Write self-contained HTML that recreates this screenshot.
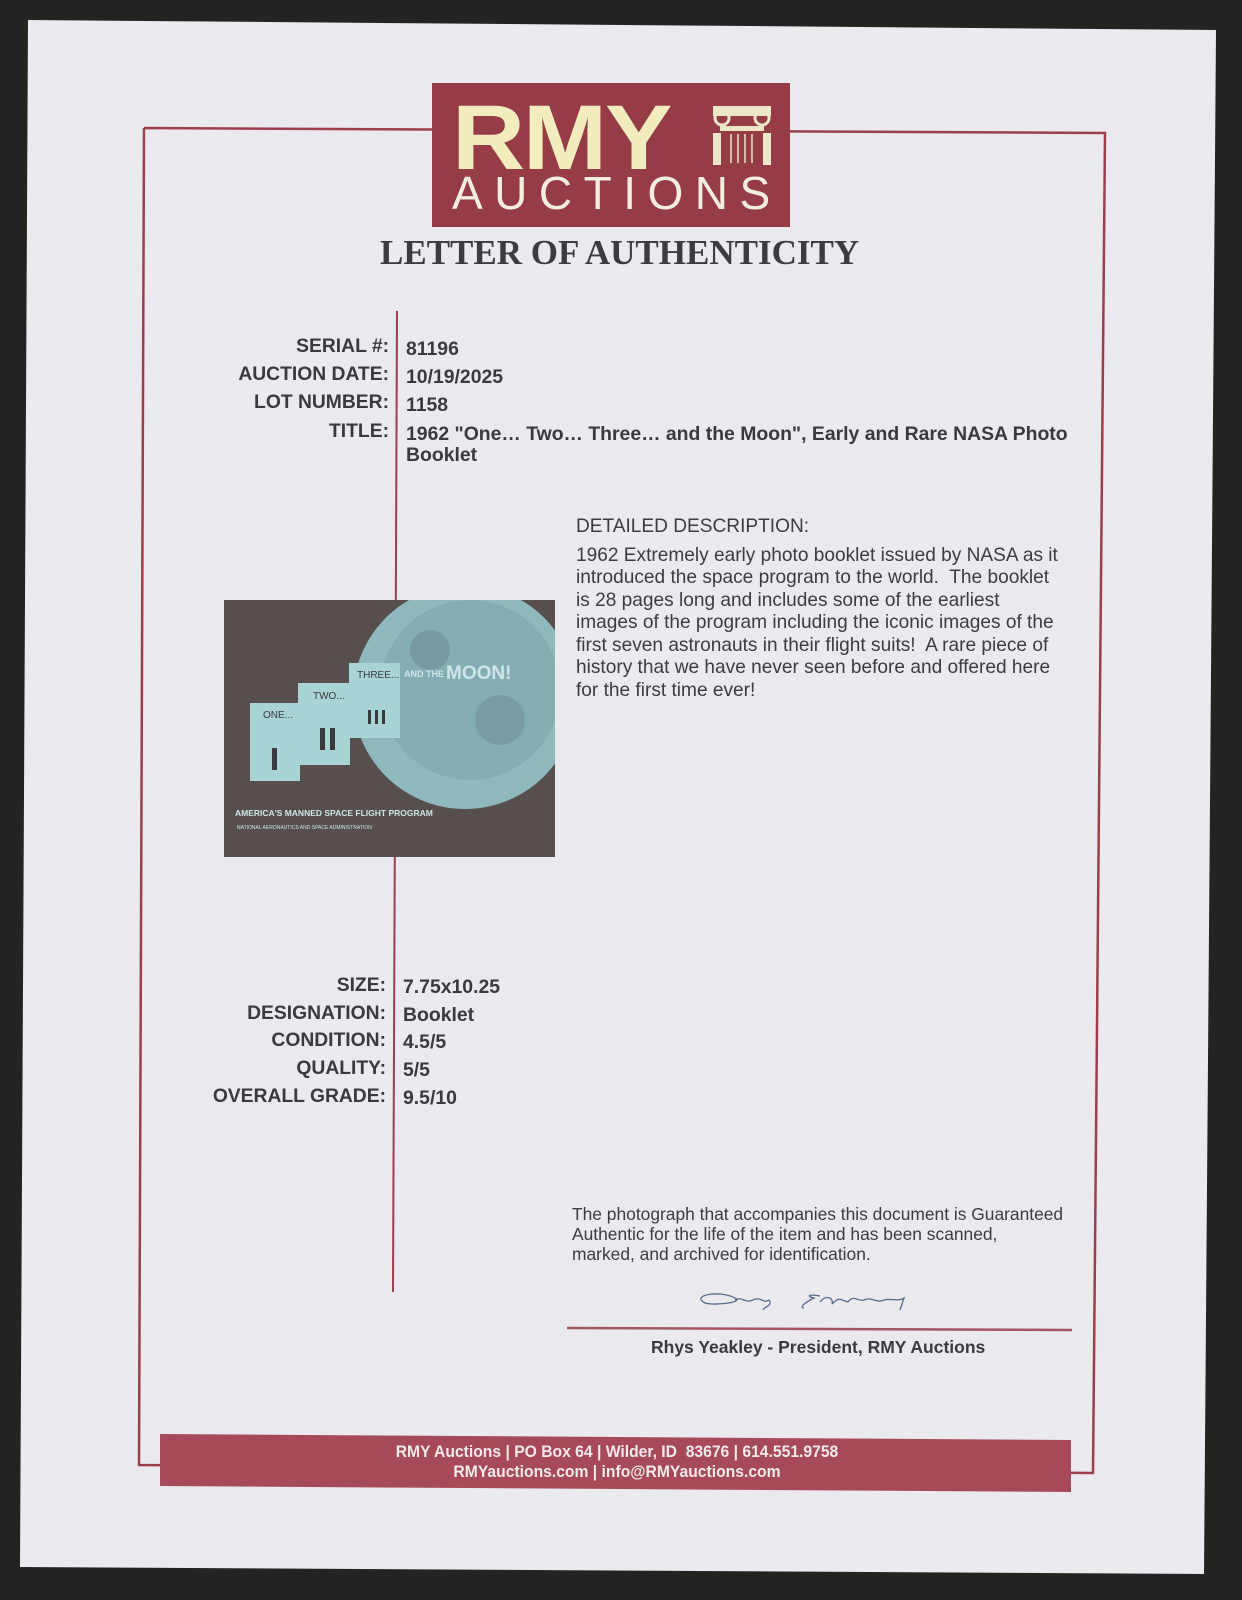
<!DOCTYPE html>
<html><head><meta charset="utf-8"><style>
body{margin:0;width:1242px;height:1600px;background:#242322;position:relative;overflow:hidden;font-family:"Liberation Sans",sans-serif;}
.t{position:absolute;white-space:nowrap;color:#3a3a3c;}
.lab{position:absolute;right:853px;font-weight:bold;font-size:19.3px;color:#3a3a3c;white-space:nowrap;}
.val{position:absolute;left:406px;font-weight:bold;font-size:19.4px;color:#3a3a3c;white-space:nowrap;}
.d{position:absolute;left:576px;font-size:19.1px;color:#3c3c3e;white-space:nowrap;}
</style></head><body>
<svg width="1242" height="1600" style="position:absolute;left:0;top:0">
<polygon points="28,20 1216,30 1204,1574 20,1567" fill="#ebebef"/>
<polyline points="144,128 1105,133 1093,1473 139,1465 144,128" fill="none" stroke="#9c3e4b" stroke-width="2.5"/>
<rect x="432" y="83" width="358" height="144" fill="#963c47"/>
<g fill="#ece7c8">
<rect x="713" y="106" width="58" height="10"/>
<circle cx="722" cy="118" r="7" fill="none" stroke="#ece7c8" stroke-width="3"/>
<circle cx="762" cy="118" r="7" fill="none" stroke="#ece7c8" stroke-width="3"/>
<rect x="720" y="126" width="44" height="5"/>
<rect x="713" y="133" width="8" height="32"/>
<rect x="763" y="133" width="8" height="32"/>
</g>
<g stroke="#ece7c8" stroke-width="1.5"><line x1="731" y1="134" x2="731" y2="163"/><line x1="738" y1="134" x2="738" y2="163"/><line x1="745" y1="134" x2="745" y2="163"/><line x1="752" y1="134" x2="752" y2="163"/></g>
<line x1="397" y1="311" x2="393" y2="1292" stroke="#9c3e4b" stroke-width="2"/>
<rect x="224" y="600" width="331" height="257" fill="#564f4e"/>
<clipPath id="c"><rect x="224" y="600" width="331" height="257"/></clipPath>
<g clip-path="url(#c)">
<ellipse cx="465" cy="697" rx="112" ry="112" fill="#8fb9bf"/>
<ellipse cx="470" cy="690" rx="90" ry="90" fill="#7ea6ad" opacity="0.6"/>
<circle cx="430" cy="650" r="20" fill="#6d8c92" opacity="0.6"/>
<circle cx="500" cy="720" r="25" fill="#6d8c92" opacity="0.5"/>
</g>
<rect x="250" y="703" width="50" height="78" fill="#a9d4d6"/>
<rect x="298" y="683" width="52" height="82" fill="#a9d4d6"/>
<rect x="349" y="663" width="51" height="75" fill="#a9d4d6"/>
<g fill="#3a3a3c"><rect x="272" y="748" width="5" height="22"/><rect x="320" y="728" width="5" height="22"/><rect x="330" y="728" width="5" height="22"/><rect x="368" y="710" width="3" height="14"/><rect x="375" y="710" width="3" height="14"/><rect x="382" y="710" width="3" height="14"/></g>
<text x="263" y="718" font-size="10" fill="#3a3a3c" font-family="Liberation Sans">ONE...</text>
<text x="313" y="699" font-size="10" fill="#3a3a3c" font-family="Liberation Sans">TWO...</text>
<text x="357" y="678" font-size="10" fill="#3a3a3c" font-family="Liberation Sans">THREE...</text>
<text x="404" y="677" font-size="9" fill="#cfe6e8" font-family="Liberation Sans" font-weight="bold">AND THE</text>
<text x="446" y="679" font-size="19" fill="#cfe6e8" font-family="Liberation Sans" font-weight="bold">MOON!</text>
<text x="235" y="816" font-size="8.5" fill="#cfe6e8" font-family="Liberation Sans" font-weight="bold">AMERICA'S MANNED SPACE FLIGHT PROGRAM</text>
<text x="237" y="829" font-size="5" fill="#cfe6e8" font-family="Liberation Sans">NATIONAL AERONAUTICS AND SPACE ADMINISTRATION</text>
<path d="M705,1303 C690,1295 720,1290 735,1298 C745,1302 715,1306 705,1303 M735,1300 c8,-4 10,4 18,0 c8,-4 10,4 16,0 c4,6 -4,6 -6,10 M820,1296 c-10,-2 -15,0 -6,2 c-12,6 -14,10 -10,10 M820,1302 c6,-8 14,-4 12,2 c8,-8 8,-4 16,-2 c6,-8 10,0 16,-2 c8,-4 12,4 20,0 c8,-2 14,2 20,-2 l-4,12" fill="none" stroke="#5a6a8c" stroke-width="1.3"/>
<line x1="567" y1="1328" x2="1072" y2="1330" stroke="#a45562" stroke-width="2.5"/>
<polygon points="160,1434 1071,1440 1071,1492 160,1486" fill="#a64a59"/>
</svg>
<div class="t" style="left:452px;top:86px;font-size:92px;font-weight:bold;color:#f2ecbf;transform:scaleX(1.1);transform-origin:left top;letter-spacing:-2px">RMY</div>
<div class="t" style="left:452px;top:166px;font-size:46px;color:#f4eee0;letter-spacing:11.5px">AUCTIONS</div>
<div class="t" style="left:380px;top:233px;font-size:35px;font-weight:bold;font-family:'Liberation Serif',serif;color:#3c3c3e">LETTER OF AUTHENTICITY</div>

<div class="lab" style="top:336px">SERIAL #:</div><div class="val" style="top:338px">81196</div>
<div class="lab" style="top:364px">AUCTION DATE:</div><div class="val" style="top:366px">10/19/2025</div>
<div class="lab" style="top:392px">LOT NUMBER:</div><div class="val" style="top:394px">1158</div>
<div class="lab" style="top:421px">TITLE:</div><div class="val" style="top:423px">1962 "One… Two… Three… and the Moon", Early and Rare NASA Photo</div>
<div class="val" style="top:444px">Booklet</div>

<div class="d" style="top:516px">DETAILED DESCRIPTION:</div>
<div class="d" style="top:545px">1962 Extremely early photo booklet issued by NASA as it</div>
<div class="d" style="top:567px">introduced the space program to the world.&nbsp; The booklet</div>
<div class="d" style="top:590px">is 28 pages long and includes some of the earliest</div>
<div class="d" style="top:612px">images of the program including the iconic images of the</div>
<div class="d" style="top:635px">first seven astronauts in their flight suits!&nbsp; A rare piece of</div>
<div class="d" style="top:657px">history that we have never seen before and offered here</div>
<div class="d" style="top:680px">for the first time ever!</div>

<div class="lab" style="top:975px;right:856px">SIZE:</div><div class="val" style="top:976px;left:403px">7.75x10.25</div>
<div class="lab" style="top:1003px;right:856px">DESIGNATION:</div><div class="val" style="top:1004px;left:403px">Booklet</div>
<div class="lab" style="top:1030px;right:856px">CONDITION:</div><div class="val" style="top:1031px;left:403px">4.5/5</div>
<div class="lab" style="top:1058px;right:856px">QUALITY:</div><div class="val" style="top:1059px;left:403px">5/5</div>
<div class="lab" style="top:1086px;right:856px">OVERALL GRADE:</div><div class="val" style="top:1087px;left:403px">9.5/10</div>

<div class="d" style="left:572px;top:1204px;font-size:17.4px">The photograph that accompanies this document is Guaranteed</div>
<div class="d" style="left:572px;top:1224px;font-size:17.4px">Authentic for the life of the item and has been scanned,</div>
<div class="d" style="left:572px;top:1244px;font-size:17.4px">marked, and archived for identification.</div>
<div class="t" style="left:651px;top:1337px;font-size:17.5px;font-weight:bold">Rhys Yeakley - President, RMY Auctions</div>

<div class="t" style="width:1242px;text-align:center;left:-4px;top:1443px;font-size:16.5px;font-weight:bold;color:#f3eaea;transform:scaleX(0.95)">RMY Auctions | PO Box 64 | Wilder, ID&nbsp; 83676 | 614.551.9758</div>
<div class="t" style="width:1242px;text-align:center;left:-4px;top:1463px;font-size:16.5px;font-weight:bold;color:#f3eaea;transform:scaleX(0.95)">RMYauctions.com | info@RMYauctions.com</div>
</body></html>
